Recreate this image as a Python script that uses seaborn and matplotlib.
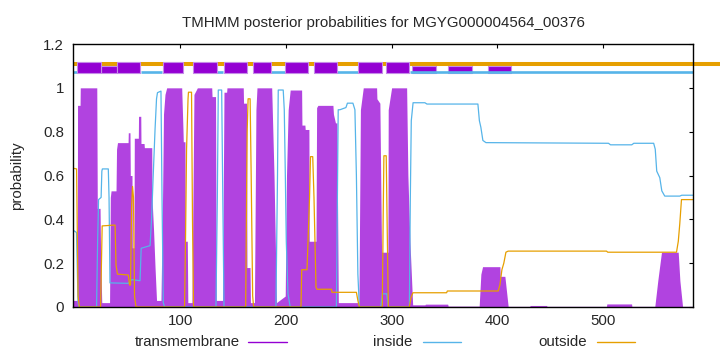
import matplotlib
matplotlib.use('agg')
import matplotlib.pyplot as plt
import seaborn as sns
from matplotlib.lines import Line2D

# ---- data ----
tm_pos = [-1, 2.8, 3.0, 5.4, 5.6, 21.2, 21.7, 24.3, 24.8, 25.9,
          33.3, 34.0, 34.7, 39.4, 39.9, 40.8, 50.8, 51.0, 52.6, 52.9,
          54.5, 54.8, 56.4, 56.7, 60.5, 60.7, 62.8, 63.0, 65.9, 66.2,
          73.2, 73.4, 74.9, 76.3, 77.7, 81.9, 83.4, 84.3, 85.7, 87.3,
          101.5, 102.7, 103.0, 104.6, 104.9, 106.8, 107.3, 111.2, 113.1, 116.3,
          129.9, 130.2, 133.5, 134.2, 140.1, 140.8, 141.5, 144.0, 144.3, 159.7,
          160.0, 162.8, 163.2, 166.1, 166.5, 170.3, 171.7, 172.7, 186.6, 188.8,
          191.1, 199.4, 200.6, 202.2, 204.1, 214.9, 215.2, 218.0, 218.3, 221.8,
          222.1, 228.5, 229.1, 230.3, 244.5, 245.0, 246.9, 248.3, 249.6, 269.1,
          270.5, 273.2, 285.8, 286.1, 288.9, 290.5, 296.5, 296.8, 300.0, 314.2,
          315.4, 317.3, 319.9, 331.5, 332.0, 353.0, 353.5, 382.8, 384.4, 386.0,
          402.4, 402.7, 407.1, 410.2, 430.7, 431.0, 446.5, 447.0, 503.2, 503.5,
          526.9, 527.2, 548.9, 551.7, 555.2, 571.0, 572.6, 575.1, 585]
tm_prob = [0.03, 0.03, 0.92, 0.92, 1.0, 1.0, 0.45, 0.45, 0.25, 0.02,
           0.02, 0.5, 0.53, 0.53, 0.72, 0.75, 0.75, 0.795, 0.795, 0.6,
           0.6, 0.27, 0.27, 0.77, 0.77, 0.87, 0.87, 0.746, 0.746, 0.727,
           0.727, 0.5, 0.35, 0.18, 0.03, 0.03, 0.5, 0.88, 0.97, 1.0,
           1.0, 0.81, 0.754, 0.754, 0.3, 0.3, 0.02, 0.02, 0.97, 1.0,
           1.0, 0.96, 0.96, 0.03, 0.03, 0.5, 0.98, 0.98, 1.0, 1.0,
           0.93, 0.93, 0.18, 0.18, 0.02, 0.02, 0.9, 1.0, 1.0, 0.6,
           0.02, 0.05, 0.6, 0.9, 0.99, 0.99, 0.83, 0.83, 0.81, 0.81,
           0.3, 0.3, 0.91, 0.92, 0.92, 0.88, 0.84, 0.84, 0.02, 0.02,
           0.9, 1.0, 1.0, 0.95, 0.93, 0.25, 0.25, 0.9, 1.0, 1.0,
           0.6, 0.3, 0.01, 0.01, 0.013, 0.013, 0.004, 0.004, 0.15, 0.184,
           0.184, 0.14, 0.14, 0.003, 0.003, 0.007, 0.007, 0.003, 0.003, 0.014,
           0.014, 0.003, 0.003, 0.12, 0.25, 0.25, 0.12, 0.003, 0.003]

in_pos = [-1, 2.0, 3.5, 4.4, 21.0, 22.0, 22.9, 25.3, 26.0, 26.5,
          32.1, 32.8, 33.7, 51.0, 54.3, 62.1, 63.2, 71.6, 73.0, 74.4,
          76.3, 77.7, 78.6, 81.9, 82.9, 84.1, 85.3, 133.9, 135.2, 136.1,
          139.3, 140.6, 141.5, 190.6, 192.1, 192.8, 197.5, 198.5, 199.5, 200.4,
          202.0, 204.1, 247.8, 249.5, 251.1, 256.8, 258.2, 263.4, 265.3, 266.7,
          268.1, 269.5, 289.8, 291.2, 295.5, 296.9, 316.8, 317.7, 318.6, 320.3,
          331.5, 333.4, 381.6, 383.0, 384.4, 386.3, 389.2, 505.1, 507.0, 527.1,
          529.0, 547.8, 549.3, 550.7, 553.6, 555.5, 558.3, 572.5, 574.4, 585]
in_prob = [0.35, 0.34, 0.02, 0.0, 0.0, 0.3, 0.49, 0.5, 0.62, 0.63,
           0.63, 0.5, 0.11, 0.108, 0.125, 0.12, 0.268, 0.28, 0.4, 0.58,
           0.81, 0.95, 0.978, 0.985, 0.5, 0.02, 0.0, 0.0, 0.5, 0.99,
           0.99, 0.4, 0.0, 0.0, 0.6, 0.99, 0.99, 0.9, 0.6, 0.3,
           0.06, 0.0, 0.0, 0.9, 0.90, 0.91, 0.93, 0.93, 0.90, 0.6,
           0.15, 0.0, 0.0, 0.06, 0.06, 0.0, 0.0, 0.5, 0.85, 0.932,
           0.932, 0.926, 0.926, 0.85, 0.82, 0.76, 0.75, 0.747, 0.74, 0.74,
           0.747, 0.747, 0.72, 0.62, 0.59, 0.53, 0.506, 0.506, 0.51, 0.51]

out_pos = [-1, 2.1, 3.5, 4.7, 24.8, 26.3, 38.5, 39.4, 40.8, 51.0,
           52.2, 53.1, 54.1, 55.0, 55.9, 56.9, 58.3, 104.2, 105.1, 106.1,
           107.5, 107.9, 110.8, 111.7, 112.7, 162.0, 163.0, 163.4, 164.3, 166.2,
           167.2, 168.6, 169.5, 214.3, 215.0, 220.0, 222.4, 223.3, 225.4, 226.6,
           228.5, 229.4, 243.2, 243.6, 266.7, 268.1, 269.5, 291.2, 292.0, 292.7,
           294.9, 296.0, 296.9, 316.8, 318.2, 320.1, 352.0, 352.7, 400.8, 402.4,
           404.3, 406.1, 408.1, 410.2, 503.2, 504.4, 569.4, 571.1, 572.5, 574.1, 585]
out_prob = [0.633, 0.63, 0.05, 0.0, 0.0, 0.37, 0.374, 0.19, 0.15, 0.146,
            0.1, 0.1, 0.45, 0.55, 0.5, 0.05, 0.0, 0.0, 0.3, 0.72,
            0.95, 0.98, 0.98, 0.4, 0.0, 0.0, 0.6, 0.8, 0.95, 0.95,
            0.6, 0.05, 0.0, 0.0, 0.17, 0.17, 0.5, 0.686, 0.686, 0.5,
            0.09, 0.081, 0.081, 0.067, 0.067, 0.03, 0.0, 0.0, 0.4, 0.69,
            0.69, 0.3, 0.0, 0.0, 0.04, 0.065, 0.065, 0.073, 0.073, 0.1,
            0.17, 0.2, 0.25, 0.255, 0.255, 0.25, 0.25, 0.3, 0.38, 0.49, 0.49]

# predicted topology bar on top
helix_start = [2.8, 40.1, 83.6, 112.5, 141.5, 169.2, 199.2, 226.6, 268.4, 294.6]
helix_end = [25.0, 62.1, 102.5, 134.6, 163.5, 185.6, 221.2, 248.6, 290.6, 316.6]
weak_start = [25.0, 319.7, 353.5, 390.7]
weak_end = [40.1, 341.9, 375.6, 412.8]
inside_start = [-1, 62.8, 134.6, 185.6, 248.6, 317.3]
inside_end = [2.8, 82.6, 140.8, 199.2, 268.4, 585]
outside_span = [-1, 612]

xticks = [100, 200, 300, 400, 500]
yticks = [0, 0.2, 0.4, 0.6, 0.8, 1.0, 1.2]
ytick_labels = ['0', '0.2', '0.4', '0.6', '0.8', '1', '1.2']

c_tm = '#9400d3'
c_tm_fill = '#b143e0'
c_in = '#56b4e9'
c_out = '#e69f00'

sns.set_style('white')
plt.rcParams['font.family'] = ['Liberation Sans', 'DejaVu Sans']
fs = 10.8

fig = plt.figure(figsize=(7.2, 3.52), dpi=100)
W, H = 720.0, 352.0
ax = fig.add_axes([73.3 / W, 1 - 307 / H, (693 - 73.3) / W, (307 - 44) / H])

ax.fill_between(tm_pos, tm_prob, 0, color=c_tm_fill, lw=0, zorder=2)
sns.lineplot(x=in_pos, y=in_prob, ax=ax, color=c_in, lw=0.9, estimator=None, sort=False, zorder=3)
sns.lineplot(x=out_pos, y=out_prob, ax=ax, color=c_out, lw=0.9, estimator=None, sort=False, zorder=3)

# topology bar
ax.plot(outside_span, [1.110, 1.110], color=c_out, lw=2.9, solid_capstyle='butt', clip_on=False, zorder=4)
for s, e in zip(weak_start, weak_end):
    ax.fill_between([s, e], [1.066, 1.066], [1.100, 1.100], color=c_tm, lw=0.8,
                    edgecolor='#c58be8', zorder=5)
ax.hlines([1.072] * len(inside_start), inside_start, inside_end, color=c_in, lw=1.9, zorder=6)
for s, e in zip(helix_start, helix_end):
    ax.fill_between([s, e], [1.066, 1.066], [1.116, 1.116], color=c_tm, lw=0.8,
                    edgecolor='#c58be8', zorder=7)

ax.set_xlim(-1, 585)
ax.set_ylim(0, 1.2)
ax.set_xticks(xticks)
ax.set_xticklabels([str(t) for t in xticks], fontsize=fs)
ax.set_yticks(yticks)
ax.set_yticklabels(ytick_labels, fontsize=fs)
ax.tick_params(direction='in', length=3, width=0.8, top=True, right=True, color='black')
ax.tick_params(axis='y', pad=6.7)
ax.tick_params(axis='x', pad=5)
for sp in ax.spines.values():
    sp.set_visible(True)
    sp.set_color('black')
    sp.set_linewidth(1.0)
    sp.set_zorder(8)
ax.set_xlabel('')
ax.set_ylabel('')

fig.text(383 / W, 1 - 27 / H, 'TMHMM posterior probabilities for MGYG000004564_00376',
         ha='center', va='baseline', fontsize=fs)
fig.text(17 / W, 1 - 175.5 / H, 'probability', rotation=90, ha='center', va='center', fontsize=fs)

# legend row under the axis
legend_items = [('transmembrane', c_tm, 239.5, 248.3, 286.7),
                ('inside', c_in, 412.7, 422.7, 460.7),
                ('outside', c_out, 586.7, 596.7, 635.3)]
for label, col, tx, x0, x1 in legend_items:
    fig.text(tx / W, 1 - 346 / H, label, ha='right', va='baseline', fontsize=fs)
    fig.add_artist(Line2D([x0 / W, x1 / W], [1 - 341.7 / H, 1 - 341.7 / H],
                          color=col, lw=1.0, transform=fig.transFigure))

plt.savefig('out.png', dpi=100)
